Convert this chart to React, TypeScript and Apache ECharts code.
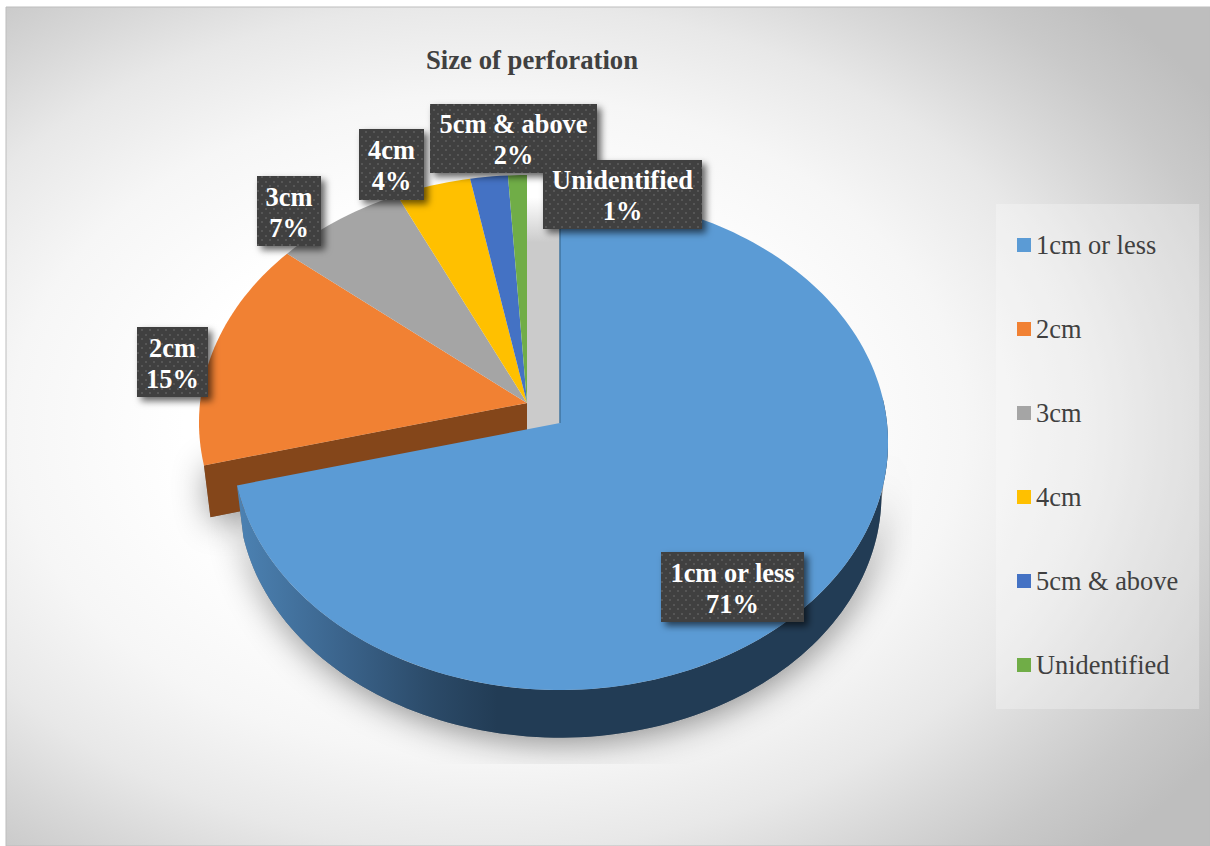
import React, { useEffect, useRef } from "react";
import * as echarts from "echarts";

const categories = ["1cm or less", "2cm", "3cm", "4cm", "5cm & above", "Unidentified"];
const percents = [71, 15, 7, 4, 2, 1];
const colors = ["#5b9bd5", "#f18133", "#a5a5a5", "#ffc000", "#4472c4", "#70ad47"];

// Apex of the pie; the largest slice is pulled out towards the lower right.
const CENTER = [527, 403];
const EXPLODED_CENTER = [560, 423];
const RX = 327;
const RY = 246;
const TILT = 0.0788;
const WALL_DROP = 53;
const WALL_SCALE = 0.98;
const SAMPLE_DEG = 1.5;

// Label boxes, in category order: x, y, width, height.
const labelBoxes = [
  [661, 552, 143, 70],
  [137, 327, 71, 70],
  [257, 176, 64, 70],
  [359, 129, 65, 71],
  [430, 104, 167, 69],
  [543, 160, 159, 69],
];

const total = percents.reduce((a, b) => a + b, 0);
const spans = percents.map((p, i) => {
  const before = percents.slice(0, i).reduce((a, b) => a + b, 0);
  return [(before / total) * 360, ((before + p) / total) * 360];
});

// Perspective projection of a point on the pie's rim, clockwise from 12 o'clock.
function rim(apex: number[], deg: number, scale = 1, drop = 0) {
  const t = (deg * Math.PI) / 180;
  const u = Math.sin(t);
  const v = -Math.cos(t);
  const w = 1 - TILT * v;
  return [apex[0] + (scale * RX * u) / w, apex[1] + drop + (scale * RY * v) / w];
}

function arc(apex: number[], from: number, to: number, scale = 1, drop = 0) {
  const pts: number[][] = [];
  const n = Math.max(2, Math.ceil(Math.abs(to - from) / SAMPLE_DEG));
  for (let i = 0; i <= n; i++) pts.push(rim(apex, from + ((to - from) * i) / n, scale, drop));
  return pts;
}

function outerWall(apex: number[], from: number, to: number) {
  return [...arc(apex, from, to), ...arc(apex, to, from, WALL_SCALE, WALL_DROP)];
}

function cutWall(apex: number[], deg: number) {
  return [
    apex,
    rim(apex, deg),
    rim(apex, deg, WALL_SCALE, WALL_DROP),
    [apex[0], apex[1] + WALL_DROP],
  ];
}

const sideGradient = {
  type: "linear",
  x: 0,
  y: 0,
  x2: 1,
  y2: 0,
  colorStops: [
    { offset: 0, color: "#4c82b3" },
    { offset: 0.16, color: "#3b648c" },
    { offset: 0.3, color: "#2b4a68" },
    { offset: 0.4, color: "#223c55" },
    { offset: 1, color: "#223c55" },
  ],
};

const shadowStyle = {
  fill: "#8a8a8a",
  shadowBlur: 34,
  shadowColor: "rgba(0,0,0,0.45)",
  shadowOffsetX: 2,
  shadowOffsetY: 5,
};

// Soft ground shadow, cut off at the plot area, plus the light gap left by the pulled-out slice.
function renderGround() {
  const blueEnd = spans[0][1];
  const orangeStart = spans[1][0];
  const plotClip = {
    type: "rect",
    shape: { x: 170, y: 405, width: 742, height: 359 },
  };
  return {
    type: "group",
    children: [
      {
        type: "polygon",
        shape: { points: outerWall(EXPLODED_CENTER, 96, blueEnd) },
        style: shadowStyle,
        clipPath: plotClip,
      },
      {
        type: "polygon",
        shape: { points: cutWall(CENTER, orangeStart) },
        style: shadowStyle,
        clipPath: plotClip,
      },
      {
        type: "rect",
        shape: {
          x: CENTER[0],
          y: CENTER[1] - RY / (1 + TILT),
          width: EXPLODED_CENTER[0] - CENTER[0],
          height: RY / (1 + TILT) + WALL_DROP,
        },
        style: {
          fill: {
            type: "linear",
            x: 0,
            y: 0,
            x2: 0,
            y2: 1,
            colorStops: [
              { offset: 0, color: "#ffffff" },
              { offset: 0.08, color: "#ffffff" },
              { offset: 0.24, color: "#cbcbcb" },
              { offset: 1, color: "#cbcbcb" },
            ],
          },
        },
      },
    ],
  };
}

// One pie slice: top face, and for the two front slices the visible side walls.
function renderSlice(index: number) {
  return (_params: any, api: any) => {
    const from = api.value(0);
    const to = api.value(1);
    const apex = index === 0 ? EXPLODED_CENTER : CENTER;
    const children: any[] = [];
    if (index === 0) {
      children.push({
        type: "polygon",
        shape: { points: outerWall(apex, 84, to) },
        style: { fill: sideGradient },
      });
    }
    if (index === 1) {
      children.push({
        type: "polygon",
        shape: { points: cutWall(apex, from) },
        style: { fill: "#84461a" },
      });
    }
    children.push({
      type: "polygon",
      shape: { points: [apex, ...arc(apex, from, to)] },
      style: { fill: api.visual("color") },
    });
    if (index === 0) {
      const top = rim(apex, from);
      children.push({
        type: "line",
        shape: { x1: apex[0], y1: apex[1], x2: top[0], y2: top[1] },
        style: { stroke: "#41749f", lineWidth: 1.5 },
      });
    }
    return { type: "group", children };
  };
}

function dotTexture() {
  const c = document.createElement("canvas");
  c.width = 8;
  c.height = 9;
  const g = c.getContext("2d") as CanvasRenderingContext2D;
  g.fillStyle = "#404040";
  g.fillRect(0, 0, 8, 9);
  g.fillStyle = "#575757";
  g.fillRect(1, 1, 2, 2);
  g.fillRect(5, 5, 2, 2);
  return c;
}

export default function App() {
  const ref = useRef<HTMLDivElement>(null);

  useEffect(() => {
    if (!ref.current) return;
    const chart = echarts.init(ref.current, undefined, { renderer: "svg" });
    const serif = '"Liberation Serif", "Times New Roman", serif';
    const texture = dotTexture();

    const labelElements: any[] = [];
    categories.forEach((name, i) => {
      const [x, y, w, h] = labelBoxes[i];
      labelElements.push({
        type: "rect",
        z: 100 + i * 2,
        shape: { x, y, width: w, height: h },
        style: {
          fill: { image: texture, repeat: "repeat" },
          shadowBlur: 7,
          shadowColor: "rgba(0,0,0,0.6)",
          shadowOffsetX: 4,
          shadowOffsetY: 4,
        },
      });
      labelElements.push({
        type: "text",
        z: 101 + i * 2,
        x: x + w / 2,
        y: y + h / 2 + 1,
        style: {
          text: `${name}\n${percents[i]}%`,
          fill: "#ffffff",
          font: `bold 26.4px ${serif}`,
          lineHeight: 31,
          textAlign: "center",
          textVerticalAlign: "middle",
        },
      });
    });

    chart.setOption({
      animation: false,
      title: {
        text: "Size of perforation",
        left: 532,
        top: 46,
        textAlign: "center",
        padding: 0,
        textStyle: { color: "#404040", fontFamily: serif, fontWeight: "bold", fontSize: 26.7 },
      },
      legend: {
        data: categories,
        orient: "vertical",
        left: 996,
        top: 204,
        padding: [28, 21, 31, 21],
        backgroundColor: "rgba(255,255,255,0.28)",
        icon: "rect",
        itemWidth: 14,
        itemHeight: 14,
        itemGap: 58,
        selectedMode: false,
        textStyle: { color: "#404040", fontFamily: serif, fontSize: 26.4, padding: [0, 0, 0, 0] },
      },
      graphic: [
        {
          type: "rect",
          z: -1,
          shape: { x: 6, y: 7, width: 1204, height: 839 },
          style: {
            fill: {
              type: "radial",
              x: 0.4,
              y: 0.5,
              r: 0.72,
              colorStops: [
                { offset: 0, color: "#ffffff" },
                { offset: 0.35, color: "#ffffff" },
                { offset: 0.55, color: "#f6f6f6" },
                { offset: 0.7, color: "#e8e8e8" },
                { offset: 0.8, color: "#d8d8d8" },
                { offset: 0.9, color: "#c9c9c9" },
                { offset: 1, color: "#bebebe" },
              ],
            },
            stroke: "#bdbdbd",
            lineWidth: 1,
          },
        },
        ...labelElements,
      ],
      series: [
        {
          type: "custom",
          name: "ground",
          coordinateSystem: "none",
          silent: true,
          z: 1,
          data: [[0, 360]],
          renderItem: renderGround,
        },
        ...categories.map((name, i) => ({
          type: "custom",
          name,
          coordinateSystem: "none",
          silent: true,
          z: i === 0 ? 4 : 3,
          itemStyle: { color: colors[i] },
          data: [spans[i]],
          renderItem: renderSlice(i),
        })),
      ],
    });

    return () => chart.dispose();
  }, []);

  return (
    <div
      ref={ref}
      style={{ position: "fixed", left: 0, top: 0, width: 1210, height: 846, background: "#ffffff" }}
    />
  );
}
